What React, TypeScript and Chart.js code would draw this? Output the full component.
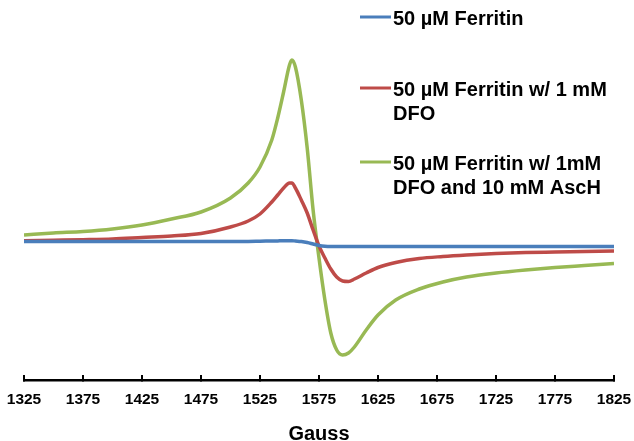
import React, { useEffect, useRef } from "react";
import { Chart, registerables } from "chart.js";

Chart.register(...registerables);

// Magnetic field (Gauss)
const gauss = [
  1325, 1350, 1375, 1400, 1425, 1450, 1475, 1500, 1515, 1525, 1535, 1540, 1545,
  1550, 1552, 1555, 1560, 1565, 1570, 1575, 1580, 1585, 1590, 1595, 1600, 1605,
  1615, 1625, 1640, 1660, 1680, 1700, 1725, 1750, 1775, 1800, 1825,
];

// EPR signal (arbitrary units)
const ferritin = [
  3.5, 3.5, 3.4, 3.5, 3.4, 3.5, 3.4, 3.5, 3.6, 3.8, 4.0, 4.1, 4.2, 4.2, 4.3,
  4.0, 3.5, 2.5, 1.0, -0.5, -1.3, -1.5, -1.5, -1.5, -1.5, -1.5, -1.5, -1.5,
  -1.5, -1.5, -1.5, -1.5, -1.5, -1.5, -1.5, -1.5, -1.5,
];
const ferritinDFO = [
  4.3, 4.8, 5.3, 6, 7.5, 9, 11.5, 18, 24, 31, 43, 50, 57, 62, 62, 57, 45, 32,
  15, -1, -13, -24, -32, -36, -36.5, -34, -28, -22.5, -17.5, -13.5, -11.5, -10,
  -8.5, -7.5, -7, -6.5, -6,
];
const ferritinDFOAscH = [
  10, 12, 13.5, 16, 20, 26, 33, 47, 62, 78, 105, 127, 153, 180, 185, 178, 145,
  97, 35, -13, -55, -88, -105, -110, -108, -102, -85, -70, -55, -44, -37, -32,
  -28, -25, -22.5, -20.5, -18.5,
];

const gaussTicks = [1325, 1375, 1425, 1475, 1525, 1575, 1625, 1675, 1725, 1775, 1825];

const seriesLabels = [
  ["50 µM Ferritin"],
  ["50 µM Ferritin w/ 1 mM", "DFO"],
  ["50 µM Ferritin w/ 1mM", "DFO and 10 mM AscH"],
];

const FONT = "'Liberation Sans', Arial, sans-serif";

const legendPlugin = {
  id: "customLegend",
  afterDraw(chart: any) {
    const ctx = chart.ctx;
    const rows = [17, 88, 162];
    ctx.save();
    chart.data.datasets.forEach((ds: any, i: number) => {
      const y = rows[i];
      ctx.strokeStyle = ds.borderColor;
      ctx.lineWidth = 3;
      ctx.beginPath();
      ctx.moveTo(360, y);
      ctx.lineTo(391, y);
      ctx.stroke();
      ctx.fillStyle = "#000";
      ctx.font = `bold 20px ${FONT}`;
      ctx.textBaseline = "middle";
      ctx.textAlign = "left";
      const lines: string[] = ds.legendLines;
      lines.forEach((t, j) => ctx.fillText(t, 393, y + 2 + j * 24.5));
    });
    ctx.restore();
  },
};

export default function App() {
  const ref = useRef<HTMLCanvasElement>(null);
  useEffect(() => {
    if (!ref.current) return;
    const colors = ["#4A7EBB", "#BE4B48", "#98B954"];
    const series = [ferritin, ferritinDFO, ferritinDFOAscH];
    const chart = new Chart(ref.current, {
      type: "line",
      data: {
        labels: gauss,
        datasets: series.map((s, i) => ({
          label: seriesLabels[i].join(" "),
          legendLines: seriesLabels[i],
          data: s.map((v, k) => ({ x: gauss[k], y: v })),
          borderColor: colors[i],
          backgroundColor: colors[i],
          borderWidth: 3.5,
          pointRadius: 0,
          cubicInterpolationMode: "monotone",
          fill: false,
        })) as any,
      },
      options: {
        animation: false,
        responsive: false,
        devicePixelRatio: 1,
        layout: { padding: { left: 24, right: 20, top: 10, bottom: 0 } },
        plugins: { legend: { display: false }, tooltip: { enabled: false } },
        scales: {
          x: {
            type: "linear",
            min: 1325,
            max: 1825,
            afterBuildTicks: (s: any) => {
              s.ticks = gaussTicks.map((v) => ({ value: v }));
            },
            afterFit: (s: any) => {
              s.height = 61;
              s.paddingLeft = 0;
              s.paddingRight = 0;
            },
            border: { display: true, color: "#000", width: 2.5 },
            grid: {
              drawOnChartArea: false,
              drawTicks: true,
              tickLength: -5,
              color: "#000",
              lineWidth: 2,
            },
            ticks: {
              autoSkip: false,
              maxRotation: 0,
              padding: 15.5,
              color: "#000",
              font: { family: FONT, size: 15.5, weight: "bold" },
              callback: (v: any) => String(v),
            },
            title: {
              display: true,
              text: "Gauss",
              color: "#000",
              font: { family: FONT, size: 20, weight: "bold" },
              padding: { top: 0, bottom: -5 },
            },
          },
          y: {
            display: false,
            min: -135,
            max: 235,
          },
        },
      },
      plugins: [legendPlugin],
    });
    return () => chart.destroy();
  }, []);
  return (
    <div style={{ position: "absolute", left: 0, top: 0, width: 634, height: 441, background: "#fff" }}>
      <canvas ref={ref} width={634} height={441} style={{ display: "block" }} />
    </div>
  );
}
